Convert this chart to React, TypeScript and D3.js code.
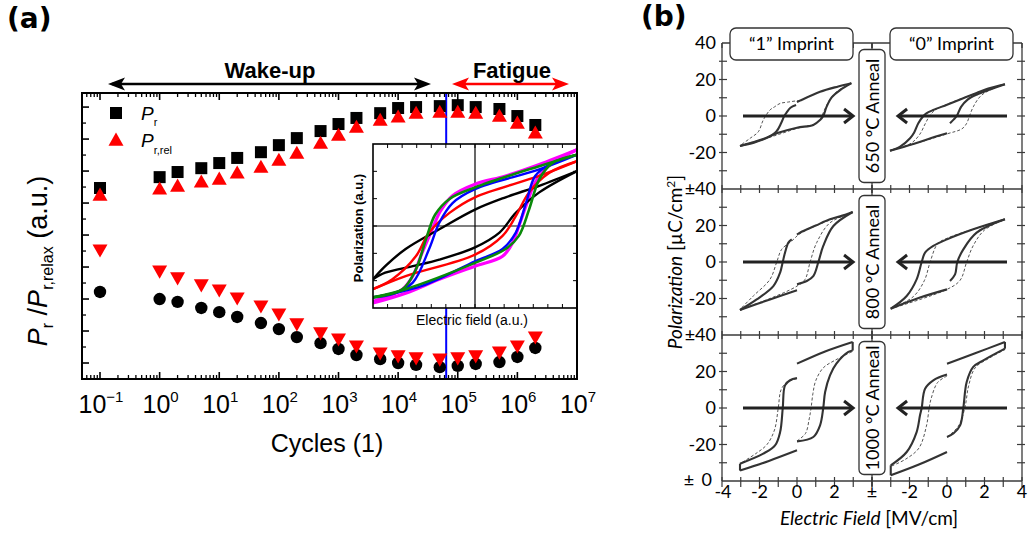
import React from 'react';
import * as d3 from 'd3';

// ---------------- Panel (a) data ----------------
const cycles = [0.1, 1, 2, 5, 10, 20, 50, 100, 200, 500, 1e3, 2e3, 5e3, 1e4, 2e4, 5e4, 1e5, 2e5, 5e5, 1e6, 2e6];
const prValues = [1.047, 1.081, 1.097, 1.109, 1.125, 1.141, 1.159, 1.181, 1.203, 1.225, 1.247, 1.266, 1.281, 1.297, 1.3, 1.303, 1.306, 1.3, 1.294, 1.272, 1.244];
const prRelValues = [1.025, 1.044, 1.053, 1.066, 1.075, 1.094, 1.112, 1.134, 1.156, 1.187, 1.212, 1.237, 1.259, 1.269, 1.281, 1.284, 1.284, 1.281, 1.272, 1.25, 1.219];
const prNormValues = [0.722, 0.7, 0.691, 0.672, 0.659, 0.644, 0.625, 0.606, 0.581, 0.562, 0.544, 0.525, 0.512, 0.5, 0.494, 0.487, 0.491, 0.497, 0.503, 0.519, 0.547];
const prRelNormValues = [0.853, 0.787, 0.766, 0.744, 0.728, 0.703, 0.678, 0.653, 0.622, 0.594, 0.575, 0.553, 0.531, 0.522, 0.516, 0.512, 0.516, 0.522, 0.534, 0.553, 0.581];
const markerCycle = 6.4e4;
const decadeExponents = [-1, 0, 1, 2, 3, 4, 5, 6, 7];

// inset loops: [field, polarization] (a.u.)
const magentaUpper = [[1, 0.93], [0.63, 0.75], [0.3, 0.61], [0, 0.51], [-0.22, 0.37], [-0.34, 0.18], [-0.42, -0.04], [-0.52, -0.33], [-0.61, -0.61], [-0.71, -0.77], [-0.88, -0.87], [-1, -0.92]];
const magentaLower = [[-1, -0.94], [-0.68, -0.82], [-0.35, -0.65], [0, -0.49], [0.27, -0.37], [0.37, -0.2], [0.43, 0], [0.51, 0.28], [0.59, 0.53], [0.73, 0.74], [1, 0.93]];
const greenUpper = [[1, 0.87], [0.63, 0.73], [0, 0.47], [-0.25, 0.33], [-0.39, 0.14], [-0.48, -0.16], [-0.58, -0.53], [-0.71, -0.77], [-1, -0.87]];
const greenLower = [[-1, -0.87], [-0.68, -0.77], [0, -0.45], [0.3, -0.28], [0.43, -0.12], [0.53, 0.2], [0.63, 0.57], [0.76, 0.77], [1, 0.87]];
const blueUpper = [[1, 0.87], [0.63, 0.69], [0, 0.45], [-0.22, 0.28], [-0.35, 0.04], [-0.45, -0.28], [-0.61, -0.69], [-0.81, -0.83], [-1, -0.87]];
const blueLower = [[-1, -0.87], [-0.52, -0.73], [0, -0.43], [0.27, -0.28], [0.4, -0.08], [0.5, 0.28], [0.59, 0.61], [0.73, 0.75], [1, 0.87]];
const redUpper = [[1, 0.79], [0.63, 0.61], [0, 0.35], [-0.25, 0.16], [-0.45, -0.08], [-0.58, -0.37], [-0.81, -0.65], [-1, -0.77]];
const redLower = [[-1, -0.77], [-0.68, -0.61], [0, -0.35], [0.27, -0.12], [0.4, 0.12], [0.53, 0.41], [0.73, 0.65], [1, 0.79]];
const blackUpper = [[1, 0.67], [0.63, 0.49], [0.3, 0.35], [0, 0.2], [-0.35, -0.04], [-0.68, -0.28], [-0.88, -0.49], [-1, -0.65]];
const blackLower = [[-1, -0.65], [-0.88, -0.57], [-0.61, -0.49], [-0.35, -0.41], [0, -0.26], [0.24, -0.08], [0.4, 0.16], [0.63, 0.41], [1, 0.67]];

// ---------------- Panel (b) data: E [MV/cm], P [uC/cm2] ----------------
const r1LeftSolid = [
  [[-3.04, -16.4], [-1.8, -12.6], [-1, -9.2], [0, -6.4], [0.87, -4.9], [1.23, -2.2], [1.4, 0], [1.58, 5.1], [1.85, 10.2], [2.3, 14.2], [2.9, 18]],
  [[2.9, 18], [2.2, 16.2], [1.23, 13.3], [0.16, 8.4], [0, 7.6]],
  [[-0.05, 6], [-0.35, 4.5], [-0.55, 2], [-0.68, 0], [-0.85, -4], [-1.1, -8.5], [-1.6, -12], [-2.3, -14.6], [-3.04, -16.4]],
];
const r1LeftDashed = [
  [[-3.04, -16.2], [-1.5, -11.8], [0, -6.8], [0.5, -5.5], [1.0, -4.3], [1.25, -1.5], [1.45, 3], [1.75, 9], [2.2, 14], [2.9, 17.6]],
  [[0.16, 8.6], [-0.5, 7.6], [-0.9, 6.9], [-1.2, 5], [-1.44, 3.3], [-1.8, -2.2], [-2.06, -8.6], [-2.5, -12.2], [-3.04, -16.2]],
];
const r1RightSolid = [
  [[-3.04, -19], [-1.8, -15.3], [-0.5, -11], [0, -9.5]],
  [[0.16, -4], [0.35, -2], [0.52, 0], [0.75, 5], [1.1, 9], [1.6, 11.8], [2.3, 14.5], [3.09, 17.4]],
  [[3.09, 17.4], [2.2, 15], [1.58, 12.6], [0.8, 9.5], [0, 6.2], [-0.73, 3.3], [-1.1, 1.5], [-1.26, 0], [-1.53, -4], [-1.75, -9], [-1.97, -12.2], [-2.5, -16.8], [-3.04, -19]],
];
const r1RightDashed = [
  [[-3.04, -19], [-1.5, -14.5], [0, -9.8], [0.8, -7], [1.05, -4], [1.2, 0], [1.4, 5], [1.8, 11], [2.4, 14.8], [3.09, 17.4]],
  [[1.5, 12.4], [0, 6.4], [-0.6, 3.5], [-0.9, 0.5], [-1.15, -4], [-1.45, -10], [-1.9, -14.8], [-3.04, -19]],
];
const r2LeftSolid = [
  [[2.97, 27.4], [2.3, 25], [1.76, 23.4], [1, 20], [0.16, 16.1], [0, 15]],
  [[-0.28, 12.4], [-0.46, 10.6], [-0.64, 5.1], [-0.76, 0], [-0.9, -5.8], [-1.26, -13.2], [-2.15, -20.5], [-3.04, -26.3]],
  [[-3.04, -26.3], [-1.44, -20.5], [0, -15.5]],
  [[0, -12.2], [0.52, -10.4], [0.87, -7.7], [1.14, 0], [1.4, 8.8], [1.94, 19.7], [2.97, 27.4]],
];
const r2LeftDashed = [
  [[2.97, 27], [1.76, 23], [0.16, 15.5], [-0.28, 11.5], [-0.82, 6.9], [-1.08, 0], [-1.44, -9.5], [-2.33, -18.6], [-3.04, -26]],
  [[-3.04, -26], [-1.44, -20], [0, -13.2], [0.43, -9.5], [0.7, 0], [1.05, 10.6], [1.76, 21.5], [2.97, 27]],
];
const r2RightSolid = [
  [[3.09, 23.4], [1.4, 17.9], [0, 12.4], [-0.73, 8.8], [-1.17, 5.1], [-1.35, 0], [-1.62, -9.5], [-2.15, -18.6], [-3.0, -25.6]],
  [[-3.0, -25.6], [-1.44, -19.5], [0, -15]],
  [[0.16, -10.4], [0.43, -6.8], [0.55, 0], [0.87, 6.9], [1.58, 16.1], [3.09, 23.4]],
];
const r2RightDashed = [
  [[3.09, 23.4], [1.4, 18], [0, 13], [-0.5, 10], [-0.9, 0], [-1.2, -10], [-1.8, -19], [-3, -25.6]],
  [[-3, -25.6], [0, -15], [0.7, -10], [1.05, 0], [1.4, 9], [2, 17.5], [3.09, 23.4]],
];
const r3LeftSolid = [
  [[0, 16.4], [-0.37, 15.2], [-0.64, 12.4], [-0.76, 0], [-0.9, -13.2], [-1.17, -20.5], [-1.8, -25], [-3.04, -30.5]],
  [[-3.04, -30.5], [-3.04, -34.3]],
  [[-3.04, -34.3], [-1.5, -29], [0, -23.2]],
  [[0, -18.3], [0.87, -15.9], [1.23, -9.5], [1.4, 0], [1.5, 8.8], [1.76, 17.9], [2.1, 24.3], [2.74, 30.7], [2.97, 31.5]],
  [[2.97, 31.5], [2.97, 36.2]],
  [[2.97, 36.2], [1.5, 31], [0, 24.3]],
];
const r3LeftDashed = [
  [[0, 16], [-0.55, 14], [-0.85, 10], [-1.0, 0], [-1.2, -12], [-1.6, -20], [-2.2, -25], [-3.04, -30.5]],
  [[0, -18], [0.45, -14], [0.65, -6], [0.75, 0], [0.85, 8], [1.0, 15], [1.4, 22], [2.0, 26], [2.97, 31]],
];
const r3RightSolid = [
  [[0, 18.3], [-0.73, 15.2], [-1.17, 10.6], [-1.35, 0], [-1.44, -4], [-1.62, -13.2], [-2.15, -24.1], [-3.0, -31.4]],
  [[-3.0, -31.4], [-3.0, -36.9]],
  [[-3.0, -36.9], [-1.5, -31], [0, -24.1]],
  [[0, -15.9], [0.34, -14], [0.7, -9.5], [0.87, 0], [1.05, 14.2], [1.4, 22.5], [1.94, 26.1], [3.09, 32.5]],
  [[3.09, 32.5], [3.09, 36.2]],
  [[3.09, 36.2], [1.5, 30], [0, 24.3]],
];
const r3RightDashed = [
  [[0, 17.5], [-0.5, 14], [-0.85, 5], [-0.95, 0], [-1.1, -10], [-1.5, -22], [-2.2, -28], [-3, -32]],
  [[0, -16], [0.6, -10], [0.95, 0], [1.15, 12], [1.5, 22], [2.2, 27], [3.09, 32]],
];
const annealLabels = ['650 °C Anneal', '800 °C Anneal', '1000 °C Anneal'];
const imprintLabels = ['\u201C1\u201D Imprint', '\u201C0\u201D Imprint'];
const bYTicks = [20, 0, -20];
const bXTicksLeft = ['-4', '-2', '0', '2'];
const bXTicksRight = ['-2', '0', '2', '4'];

const FA = "'Liberation Sans', Arial, sans-serif";
const FB = "Lato, 'Open Sans', sans-serif";
const FBOLD = "'DejaVu Sans', Verdana, sans-serif";

function PanelA() {
  const x = d3.scaleLog().domain([Math.pow(10, -1.302), 1e7]).range([82, 577]);
  const y = d3.scaleLinear().domain([0.45, 1.344]).range([379, 93]);
  const X0 = 82, X1 = 577, Y0 = 379, Y1 = 93;
  const minor: number[] = [];
  for (let e = -2; e <= 6; e++) for (let k = 2; k <= 9; k++) {
    const v = k * Math.pow(10, e);
    if (v > x.domain()[0] && v < 1e7) minor.push(v);
  }
  const yMajor = d3.range(0.5, 1.31, 0.1);
  const yMinor = d3.range(0.55, 1.344, 0.1);
  const sq = 12, cr = 6.2, tri = 7.5;
  const up = (cx: number, cy: number) => `M${cx},${cy - tri}L${cx + tri},${cy + tri * 0.75}L${cx - tri},${cy + tri * 0.75}Z`;
  const dn = (cx: number, cy: number) => `M${cx},${cy + tri}L${cx + tri},${cy - tri * 0.75}L${cx - tri},${cy - tri * 0.75}Z`;

  // inset
  const xi = d3.scaleLinear().domain([-1, 1]).range([373, 577]);
  const yi = d3.scaleLinear().domain([-1, 1]).range([308, 144]);
  const li = d3.line<number[]>().x(d => xi(d[0])).y(d => yi(d[1])).curve(d3.curveCatmullRom.alpha(0.5));
  const insetLoops: [number[][], number[][], string, number][] = [
    [magentaUpper, magentaLower, '#ff00ff', 3.2],
    [blackUpper, blackLower, '#000000', 2.4],
    [redUpper, redLower, '#ff0000', 2.4],
    [blueUpper, blueLower, '#0000ff', 2.4],
    [greenUpper, greenLower, '#0a8a0a', 2.6],
  ];

  const arrowHead = (tx: number, ty: number, dir: number, color: string) =>
    <path d={`M${tx},${ty}L${tx - dir * 17},${ty - 6.5}L${tx - dir * 13},${ty}L${tx - dir * 17},${ty + 6.5}Z`} fill={color} />;

  return (
    <g>
      <text x={7} y={28} fontFamily={FBOLD} fontWeight="bold" fontSize={28}>(a)</text>
      {/* headers */}
      <text x={270} y={78} textAnchor="middle" fontFamily={FA} fontWeight="bold" fontSize={22}>Wake-up</text>
      <line x1={112} x2={426} y1={84} y2={84} stroke="#000" strokeWidth={2.5} />
      {arrowHead(108, 84, -1, '#000')}
      {arrowHead(431, 84, 1, '#000')}
      <text x={512} y={78} textAnchor="middle" fontFamily={FA} fontWeight="bold" fontSize={22}>Fatigue</text>
      <line x1={457} x2={564} y1={84} y2={84} stroke="#ff0000" strokeWidth={2.5} />
      {arrowHead(452, 84, -1, '#ff0000')}
      {arrowHead(569, 84, 1, '#ff0000')}

      {/* axes ticks */}
      {decadeExponents.map(e => {
        const px = x(Math.pow(10, e));
        return <g key={'d' + e}>
          <line x1={px} x2={px} y1={Y0} y2={Y0 - 7} stroke="#000" strokeWidth={1.6} />
          <line x1={px} x2={px} y1={Y1} y2={Y1 + 7} stroke="#000" strokeWidth={1.6} />
          <text x={px + 1} y={413} textAnchor="middle" fontFamily={FA} fontSize={25}>
            <tspan>10</tspan><tspan fontSize={15} dy={-11}>{e < 0 ? '\u2212' + Math.abs(e) : String(e)}</tspan>
          </text>
        </g>;
      })}
      {minor.map((v, i) => {
        const px = x(v);
        return <g key={'m' + i}>
          <line x1={px} x2={px} y1={Y0} y2={Y0 - 4} stroke="#000" strokeWidth={1.3} />
          <line x1={px} x2={px} y1={Y1} y2={Y1 + 4} stroke="#000" strokeWidth={1.3} />
        </g>;
      })}
      {yMajor.map((v, i) => <line key={'ym' + i} x1={X0} x2={X0 + 7} y1={y(v)} y2={y(v)} stroke="#000" strokeWidth={1.6} />)}
      {yMinor.map((v, i) => <line key={'yn' + i} x1={X0} x2={X0 + 4} y1={y(v)} y2={y(v)} stroke="#000" strokeWidth={1.3} />)}

      {/* blue marker line */}
      <line x1={x(markerCycle)} x2={x(markerCycle)} y1={Y1} y2={Y0} stroke="#0000ff" strokeWidth={2} />

      {/* inset */}
      <defs>
        <clipPath id="insetClip"><rect x={373} y={144} width={204} height={164} /></clipPath>
      </defs>
      <rect x={373} y={144} width={204} height={164} fill="#fff" />
      <line x1={xi(0)} x2={xi(0)} y1={144} y2={308} stroke="#000" strokeWidth={1.2} />
      <line x1={373} x2={577} y1={yi(0)} y2={yi(0)} stroke="#000" strokeWidth={1.2} />
      <g clipPath="url(#insetClip)">
        {insetLoops.map(([u, l, c, w], i) => <g key={'il' + i}>
          <path d={li(u) || ''} fill="none" stroke={c} strokeWidth={w} />
          <path d={li(l) || ''} fill="none" stroke={c} strokeWidth={w} />
        </g>)}
      </g>
      {d3.range(1, 14).map(k => {
        const px = 373 + k * 204 / 14;
        return <g key={'ix' + k}>
          <line x1={px} x2={px} y1={144} y2={148} stroke="#000" strokeWidth={1} />
          <line x1={px} x2={px} y1={308} y2={304} stroke="#000" strokeWidth={1} />
        </g>;
      })}
      {d3.range(1, 6).map(k => {
        const py = 144 + k * 164 / 6;
        return <g key={'iy' + k}>
          <line x1={373} x2={377} y1={py} y2={py} stroke="#000" strokeWidth={1} />
          <line x1={577} x2={573} y1={py} y2={py} stroke="#000" strokeWidth={1} />
        </g>;
      })}
      <rect x={373} y={144} width={204} height={164} fill="none" stroke="#000" strokeWidth={1.6} />
      <text transform="translate(363,228) rotate(-90)" textAnchor="middle" fontFamily={FA} fontWeight="bold" fontSize={13}>Polarization (a.u.)</text>
      <text x={472} y={325} textAnchor="middle" fontFamily={FA} fontSize={14}>Electric field (a.u.)</text>

      {/* data markers */}
      {cycles.map((c, i) => <rect key={'s' + i} x={x(c) - sq / 2} y={y(prValues[i]) - sq / 2} width={sq} height={sq} fill="#000" />)}
      {cycles.map((c, i) => <path key={'u' + i} d={up(x(c), y(prRelValues[i]))} fill="#ff0000" />)}
      {cycles.map((c, i) => <circle key={'c' + i} cx={x(c)} cy={y(prNormValues[i])} r={cr} fill="#000" />)}
      {cycles.map((c, i) => <path key={'v' + i} d={dn(x(c), y(prRelNormValues[i]))} fill="#ff0000" />)}

      {/* legend */}
      <rect x={116 - sq / 2} y={113 - sq / 2} width={sq} height={sq} fill="#000" />
      <text x={141} y={120} fontFamily={FA} fontSize={19} fontStyle="italic">P<tspan fontStyle="normal" fontSize={11} dy={6}>r</tspan></text>
      <path d={up(116, 140)} fill="#ff0000" />
      <text x={141} y={147} fontFamily={FA} fontSize={19} fontStyle="italic">P<tspan fontStyle="normal" fontSize={11} dy={7}>r,rel</tspan></text>

      {/* frame */}
      <rect x={X0} y={Y1} width={X1 - X0} height={Y0 - Y1} fill="none" stroke="#000" strokeWidth={2} />

      {/* axis labels */}
      <text x={327} y={452} textAnchor="middle" fontFamily={FA} fontSize={25}>Cycles (1)</text>
      <text transform="translate(47,261) rotate(-90)" textAnchor="middle" fontFamily={FA} fontSize={27}>
        <tspan fontStyle="italic">P</tspan><tspan fontSize={16} dy={6}>r</tspan><tspan dy={-6}> /</tspan><tspan fontStyle="italic">P</tspan><tspan fontSize={16} dy={6}>r,relax</tspan><tspan dy={-6}> (a.u.)</tspan>
      </text>
    </g>
  );
}

function PanelB() {
  const L = 722, C = 872, R = 1022, T = 43, RH = 146;
  const xs = [d3.scaleLinear().domain([-4, 4]).range([L, C]), d3.scaleLinear().domain([-4, 4]).range([C, R])];
  const rows = [
    [r1LeftSolid, r1LeftDashed, r1RightSolid, r1RightDashed],
    [r2LeftSolid, r2LeftDashed, r2RightSolid, r2RightDashed],
    [r3LeftSolid, r3LeftDashed, r3RightSolid, r3RightDashed],
  ];
  const col = '#3a3a3a';
  const chevron = (tx: number, ty: number, dir: number) =>
    <polyline points={`${tx - dir * 9},${ty - 7} ${tx},${ty} ${tx - dir * 9},${ty + 7}`} fill="none" stroke="#222" strokeWidth={3} strokeLinejoin="miter" />;

  return (
    <g>
      <text x={641} y={26} fontFamily={FBOLD} fontWeight="bold" fontSize={28}>(b)</text>
      {/* grid/frame */}
      <line x1={C} x2={C} y1={T} y2={T + 3 * RH + 5} stroke={col} strokeWidth={1.3} />
      {[0, 1, 2, 3].map(r => <line key={'h' + r} x1={L} x2={R} y1={T + r * RH} y2={T + r * RH} stroke={col} strokeWidth={1.3} />)}
      <line x1={L} x2={L} y1={T} y2={T + 3 * RH} stroke={col} strokeWidth={1.3} />
      <line x1={R} x2={R} y1={T} y2={T + 3 * RH} stroke={col} strokeWidth={1.3} />
      {/* x ticks on every horizontal boundary */}
      {[0, 1, 2, 3].map(r => xs.map((xsc, s) => d3.range(-4, 5).map(e => {
        const px = xsc(e);
        const yy = T + r * RH;
        const upv = r === 0 ? 0 : 4, dnn = r === 3 ? 6 : 4;
        return <line key={`xt${r}-${s}-${e}`} x1={px} x2={px} y1={yy - upv} y2={yy + (r === 0 ? 5 : dnn)} stroke={col} strokeWidth={1.2} />;
      })))}
      {/* y ticks */}
      {[0, 1, 2].map(r => {
        const y = d3.scaleLinear().domain([-40, 40]).range([T + (r + 1) * RH, T + r * RH]);
        return d3.range(-30, 31, 10).map(p => <g key={`yt${r}-${p}`}>
          <line x1={L - 3} x2={L + 5} y1={y(p)} y2={y(p)} stroke={col} strokeWidth={1.2} />
          <line x1={R - 5} x2={R + 3} y1={y(p)} y2={y(p)} stroke={col} strokeWidth={1.2} />
        </g>);
      })}
      {/* y tick labels */}
      <text x={716} y={T + 6} textAnchor="end" fontFamily={FB} fontSize={18}>40</text>
      {[0, 1, 2].map(r => {
        const y = d3.scaleLinear().domain([-40, 40]).range([T + (r + 1) * RH, T + r * RH]);
        return bYTicks.map(p => <text key={`yl${r}-${p}`} x={716} y={y(p) + 6} textAnchor="end" fontFamily={FB} fontSize={18}>{p}</text>);
      })}
      <text x={716} y={T + RH + 6} textAnchor="end" fontFamily={FB} fontSize={18}>±40</text>
      <text x={716} y={T + 2 * RH + 6} textAnchor="end" fontFamily={FB} fontSize={18}>±40</text>
      <text x={712} y={T + 3 * RH + 5} textAnchor="end" fontFamily={FB} fontSize={18}>0</text>
      <text x={689} y={T + 3 * RH + 5} textAnchor="middle" fontFamily={FB} fontSize={18}>±</text>
      {/* x tick labels */}
      {bXTicksLeft.map(t => <text key={'xl' + t} x={xs[0](+t) + (t === '-4' ? 1 : 0)} y={498} textAnchor="middle" fontFamily={FB} fontSize={18}>{t}</text>)}
      {bXTicksRight.map(t => <text key={'xr' + t} x={xs[1](+t)} y={498} textAnchor="middle" fontFamily={FB} fontSize={18}>{t}</text>)}
      <text x={C} y={498} textAnchor="middle" fontFamily={FB} fontSize={18}>±</text>

      {/* loops */}
      {rows.map((rw, r) => {
        const y = d3.scaleLinear().domain([-40, 40]).range([T + (r + 1) * RH, T + r * RH]);
        return [0, 1].map(s => {
          const ln = d3.line<number[]>().x(d => xs[s](d[0])).y(d => y(d[1])).curve(d3.curveCatmullRom.alpha(0.5));
          const solid = rw[s * 2], dashed = rw[s * 2 + 1];
          const y0 = y(0);
          return <g key={`lp${r}-${s}`}>
            {dashed.map((pl, i) => <path key={'d' + i} d={ln(pl) || ''} fill="none" stroke="#555" strokeWidth={1} strokeDasharray="3 2" />)}
            {solid.map((pl, i) => <path key={'s' + i} d={ln(pl) || ''} fill="none" stroke="#333" strokeWidth={2.1} />)}
            {s === 0 ? <g>
              <line x1={xs[0](-2.88)} x2={xs[0](2.95)} y1={y0} y2={y0} stroke="#222" strokeWidth={3} />
              {chevron(xs[0](2.99), y0, 1)}
            </g> : <g>
              <line x1={xs[1](3.2)} x2={xs[1](-2.57)} y1={y0} y2={y0} stroke="#222" strokeWidth={3} />
              {chevron(xs[1](-2.61), y0, -1)}
            </g>}
          </g>;
        });
      })}

      {/* boxes */}
      {imprintLabels.map((t, i) => {
        const bx = i === 0 ? 730 : 890;
        return <g key={'ib' + i}>
          <rect x={bx} y={28} width={123} height={32} rx={6} fill="#fff" stroke="#333" strokeWidth={1.3} />
          <text x={bx + 61.5} y={50} textAnchor="middle" fontFamily={FB} fontSize={18}>{t}</text>
        </g>;
      })}
      {annealLabels.map((t, r) => {
        const h = 133;
        const cy = T + r * RH + RH / 2;
        return <g key={'ab' + r}>
          <rect x={859} y={cy - h / 2} width={26} height={h} rx={5} fill="#fff" stroke="#333" strokeWidth={1.3} />
          <text transform={`translate(${C + 6.5},${cy}) rotate(-90)`} textAnchor="middle" fontFamily={FB} fontSize={18}>{t}</text>
        </g>;
      })}

      {/* axis titles */}
      <text x={869} y={525} textAnchor="middle" fontFamily={FB} fontSize={19}>
        <tspan fontStyle="italic">Electric Field</tspan><tspan> [MV/cm]</tspan>
      </text>
      <text transform="translate(682,262) rotate(-90)" textAnchor="middle" fontFamily={FB} fontSize={19}>
        <tspan fontStyle="italic">Polarization</tspan><tspan> [µC/cm</tspan><tspan fontSize={12} dy={-7}>2</tspan><tspan dy={7}>]</tspan>
      </text>
    </g>
  );
}

export default function App() {
  return (
    <svg width={1030} height={534} viewBox="0 0 1030 534" style={{ position: 'absolute', left: 0, top: 0, background: '#fff' }}>
      <rect x={0} y={0} width={1030} height={534} fill="#fff" />
      <PanelA />
      <PanelB />
    </svg>
  );
}
